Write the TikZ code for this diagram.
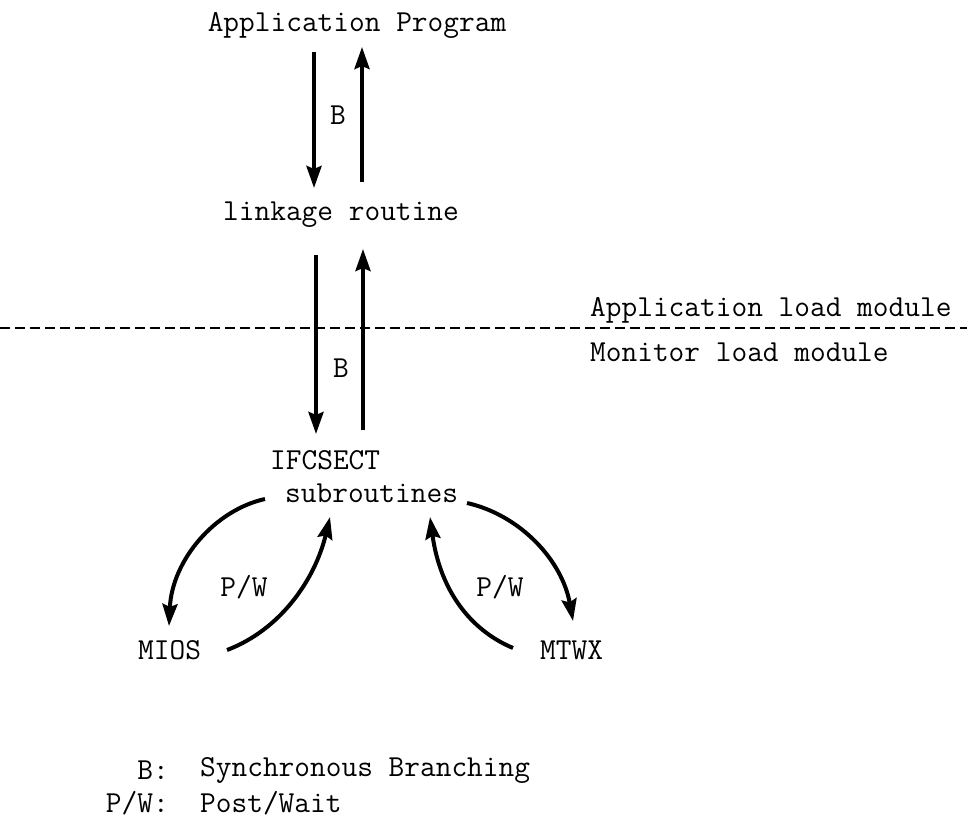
\documentclass[tikz,border=0pt]{standalone}
\usepackage{fontspec}
\usetikzlibrary{arrows.meta}
\begin{document}
\begin{tikzpicture}[x=1pt,y=-1pt,
  lbl/.style={font=\ttfamily\fontsize{30.5}{34}\selectfont, inner sep=0pt},
  flow/.style={line width=4pt, -{Stealth[length=22pt,width=15pt,inset=3pt]}},
  sep/.style={line width=2pt, dash pattern=on 10pt off 5pt}]
\useasboundingbox (0,0) rectangle (967,824);
% nodes
\node[lbl] (app) at (357,25) {Application Program};
\node[lbl] (link) at (341,215) {linkage routine};
\node[lbl, anchor=west] (alm) at (590,310) {Application load module};
\node[lbl, anchor=west] (mlm) at (590,352) {Monitor load module};
\node[lbl, anchor=west] (ifc) at (270,460) {IFCSECT};
\node[lbl, anchor=west] (sub) at (285,493) {subroutines};
\node[lbl, anchor=west] (mios) at (138,650) {MIOS};
\node[lbl, anchor=west] (mtwx) at (540,650) {MTWX};
\node[lbl] (b1) at (338,115) {B};
\node[lbl] (b2) at (341,368) {B};
\node[lbl] (pw1) at (244,587) {P/W};
\node[lbl] (pw2) at (500,587) {P/W};
\node[lbl, anchor=east] (lgb) at (169,770) {B:};
\node[lbl, anchor=west] (lgbt) at (200,770) {Synchronous Branching};
\node[lbl, anchor=east] (lgp) at (169,803) {P/W:};
\node[lbl, anchor=west] (lgpt) at (200,803) {Post/Wait};
% separator
\coordinate (sepL) at (0,328);
\coordinate (sepR) at (967,328);
\draw[sep] (sepL) -- (sepR);
% connector endpoints
\coordinate (a1s) at (314,52);  \coordinate (a1e) at (314,188);
\coordinate (a2s) at (362,182); \coordinate (a2e) at (362,47);
\coordinate (a3s) at (316,255); \coordinate (a3e) at (316,434);
\coordinate (a4s) at (363,430); \coordinate (a4e) at (363,249);
\coordinate (c1s) at (265,499); \coordinate (c1e) at (169,626);
\coordinate (c2s) at (227,650); \coordinate (c2e) at (330,517);
\coordinate (c3s) at (513,648); \coordinate (c3e) at (430,517);
\coordinate (c4s) at (467,503); \coordinate (c4e) at (573,621);
% connectors
\draw[flow] (a1s) -- (a1e);
\draw[flow] (a2s) -- (a2e);
\draw[flow] (a3s) -- (a3e);
\draw[flow] (a4s) -- (a4e);
\draw[flow] (c1s) .. controls (215,510) and (172,560) .. (c1e);
\draw[flow] (c2s) .. controls (280,630) and (315,580) .. (c2e);
\draw[flow] (c3s) .. controls (470,630) and (440,590) .. (c3e);
\draw[flow] (c4s) .. controls (520,515) and (562,560) .. (c4e);
\end{tikzpicture}
\end{document}
